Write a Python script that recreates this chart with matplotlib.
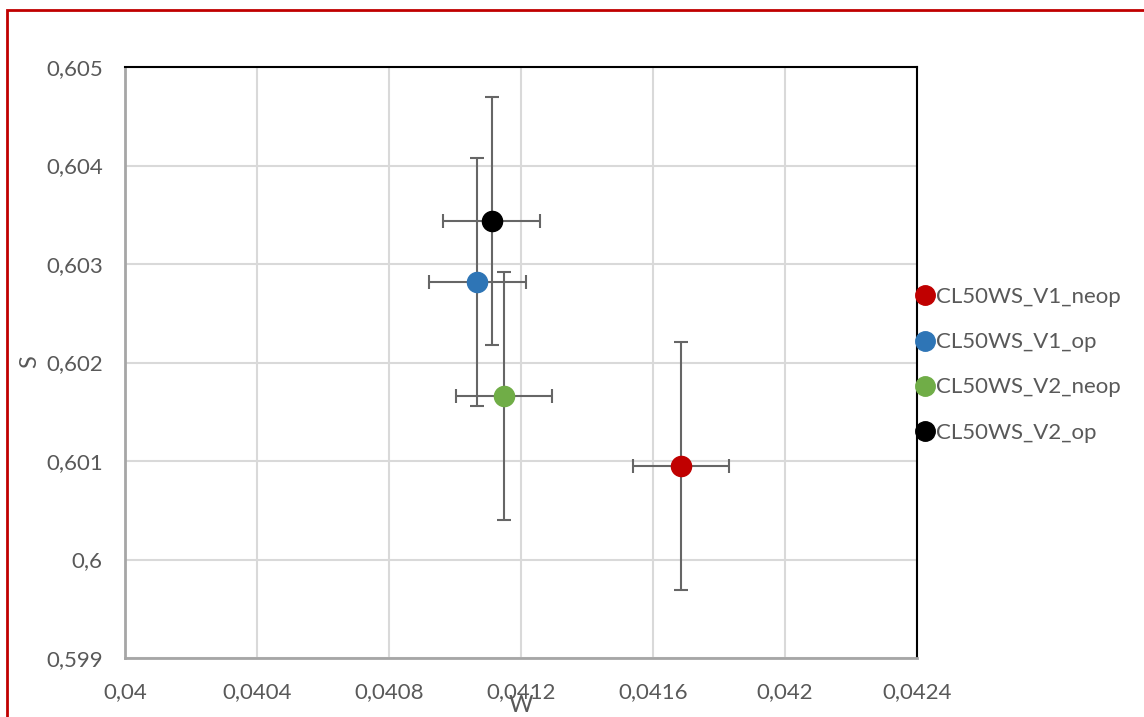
import matplotlib.pyplot as plt
from matplotlib.lines import Line2D
from matplotlib.patches import Rectangle
from matplotlib.ticker import FuncFormatter, MultipleLocator

# series
names = ['CL50WS_V1_neop', 'CL50WS_V1_op', 'CL50WS_V2_neop', 'CL50WS_V2_op']
colors = ['#c00000', '#2e75b6', '#70ad47', '#000000']
w_vals = [0.041685, 0.041067, 0.041148, 0.041112]
s_vals = [0.600949, 0.602817, 0.601660, 0.603437]
w_err = [0.000145, 0.000147, 0.000146, 0.000147]
s_err = [0.00126, 0.00126, 0.00126, 0.00126]

plt.rcParams['font.family'] = ['Lato', 'DejaVu Sans']
text_col = '#595959'

fig = plt.figure(figsize=(11.44, 7.17), dpi=100)
ax = fig.add_axes([125 / 1144, 1 - 658 / 717, 792 / 1144, 591 / 717])

for name, c, w, s, we, se in zip(names, colors, w_vals, s_vals, w_err, s_err):
    ax.errorbar(w, s, xerr=we, yerr=se, fmt='none', ecolor='#666666',
                elinewidth=1.5, capsize=5, capthick=1.5, zorder=3)
    ax.plot(w, s, 'o', color=c, markersize=14.5, zorder=4, label=name)

ax.set_xlim(0.04, 0.0424)
ax.set_ylim(0.599, 0.605)
ax.xaxis.set_major_locator(MultipleLocator(0.0004))
ax.yaxis.set_major_locator(MultipleLocator(0.001))
fmt = FuncFormatter(lambda v, pos: f'{v:.6g}'.replace('.', ','))
ax.xaxis.set_major_formatter(fmt)
ax.yaxis.set_major_formatter(fmt)
ax.tick_params(length=0, labelsize=16, colors=text_col)
ax.tick_params(axis='x', pad=17)
ax.tick_params(axis='y', pad=16)
ax.grid(True, color='#d9d9d9', linewidth=1.5, zorder=0)
ax.set_axisbelow(True)

for side in ['top', 'right']:
    ax.spines[side].set_color('black')
    ax.spines[side].set_linewidth(1.5)
for side in ['left', 'bottom']:
    ax.spines[side].set_color('#a6a6a6')
    ax.spines[side].set_linewidth(2)

fig.text(521 / 1144, 1 - 705 / 717, 'W', ha='center', va='center',
         fontsize=17, color=text_col)
fig.text(30 / 1144, 1 - 362 / 717, 'S', ha='center', va='center',
         rotation=90, fontsize=17, color=text_col)

handles = [Line2D([], [], marker='o', linestyle='none', color=c, markersize=14)
           for c in colors]
leg = ax.legend(handles, names, loc='center left', bbox_to_anchor=(1.0, 0.496),
                frameon=False, borderaxespad=0, borderpad=0, handlelength=0.7,
                handletextpad=0.15, labelspacing=1.13, fontsize=16)
for t in leg.get_texts():
    t.set_color(text_col)

# red frame around the chart area
fig.patches.append(Rectangle((7 / 1144, -0.05), 1.2, 1 - 10 / 717 + 0.05,
                             transform=fig.transFigure, fill=False,
                             edgecolor='#c00000', linewidth=2))

fig.savefig('out.png', dpi=100)
